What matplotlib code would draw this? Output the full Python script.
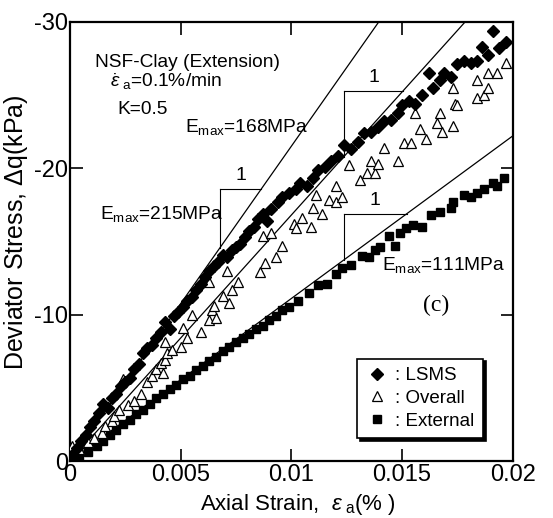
import numpy as np
import matplotlib
matplotlib.use('Agg')
import matplotlib.pyplot as plt

# LSMS (local strain) - strain %, deviator stress magnitude kPa
lsms_x = [0.0001, 0.0003, 0.0005, 0.0007, 0.0009, 0.0011, 0.0013, 0.0015, 0.0017, 0.0019,
          0.0021, 0.0023, 0.0025, 0.0027, 0.0029, 0.0031, 0.0033, 0.0035, 0.0037, 0.0039,
          0.0041, 0.0043, 0.0045, 0.0047, 0.0049, 0.0051, 0.0053, 0.0055, 0.0057, 0.0059,
          0.0061, 0.0063, 0.0065, 0.0067, 0.0069, 0.0071, 0.0073, 0.0075, 0.0077, 0.0079,
          0.0081, 0.0083, 0.0085, 0.0087, 0.0089, 0.0091, 0.0094, 0.0096, 0.0099, 0.0102,
          0.0104, 0.0107, 0.0110, 0.0112, 0.0115, 0.0118, 0.0121, 0.0124, 0.0127, 0.0130,
          0.0133, 0.0136, 0.0139, 0.0142, 0.0145, 0.0148, 0.0150, 0.0153, 0.0156, 0.0159,
          0.0162, 0.0164, 0.0167, 0.0169, 0.0172, 0.0175, 0.0178, 0.0181, 0.0184, 0.0186,
          0.0189, 0.0191, 0.0194, 0.0197]
lsms_q = [0.4, 0.9, 1.4, 1.8, 2.3, 2.7, 3.3, 3.9, 3.6, 4.3,
          4.6, 5.1, 5.4, 5.7, 6.3, 6.6, 7.4, 7.7, 7.9, 8.4,
          8.8, 9.5, 9.0, 9.9, 10.2, 10.5, 10.9, 11.2, 11.7, 12.1,
          12.6, 13.0, 13.3, 13.6, 14.1, 13.9, 14.4, 14.6, 14.8, 15.3,
          15.7, 16.0, 16.5, 16.9, 16.4, 17.2, 17.7, 18.0, 18.3, 18.6,
          19.0, 18.8, 19.3, 19.9, 20.1, 20.5, 20.8, 21.6, 21.3, 21.8,
          22.4, 22.5, 22.8, 23.2, 23.3, 23.8, 24.3, 24.6, 24.4, 25.0,
          26.5, 25.5, 26.0, 26.5, 26.2, 27.1, 27.3, 27.2, 27.3, 28.3,
          27.7, 29.4, 28.2, 28.6]

# Overall
over_x = [0.0001, 0.0004, 0.0008, 0.0011, 0.00145, 0.0016, 0.0019, 0.0020, 0.0022, 0.0024,
          0.0026, 0.0029, 0.0032, 0.0035, 0.0037, 0.0039, 0.0041, 0.0042, 0.0043, 0.0044,
          0.0043, 0.0046, 0.0050, 0.0051, 0.0053, 0.0055, 0.0059, 0.0063, 0.0063, 0.0064,
          0.0065, 0.0066, 0.0069, 0.0071, 0.0072, 0.0073, 0.0076, 0.0086, 0.0088, 0.0087,
          0.0091, 0.0093, 0.0096, 0.0101, 0.0102, 0.0105, 0.0109, 0.0110, 0.0111, 0.0114,
          0.0117, 0.0120, 0.0120, 0.0123, 0.0126, 0.0131, 0.0134, 0.0136, 0.0138, 0.0139,
          0.0142, 0.0148, 0.0151, 0.0154, 0.0156, 0.0158, 0.0161, 0.0166, 0.0167, 0.0168,
          0.0173, 0.0173, 0.0174, 0.0175, 0.0184, 0.0184, 0.0187, 0.0189, 0.0189, 0.0193,
          0.0197]
over_q = [1.0, 0.8, 1.3, 1.6, 1.9, 2.4, 2.7, 3.1, 3.5, 5.6,
          3.8, 4.1, 4.6, 5.4, 5.8, 6.3, 6.7, 6.0, 6.9, 7.4,
          8.1, 7.6, 7.8, 9.1, 8.4, 10.0, 8.8, 9.6, 12.2, 10.3,
          10.6, 9.8, 11.3, 13.0, 10.8, 11.7, 12.2, 12.9, 13.5, 15.4,
          15.6, 13.9, 14.7, 16.2, 15.9, 16.6, 16.0, 17.3, 18.2, 16.9,
          17.8, 17.7, 18.8, 18.0, 20.2, 19.2, 19.7, 20.5, 19.7, 20.3,
          21.4, 20.5, 21.7, 21.7, 23.8, 22.7, 22.0, 23.1, 23.8, 22.5,
          22.9, 25.5, 24.4, 24.3, 24.8, 26.0, 25.0, 25.5, 26.5, 26.5,
          27.2]

# External
ext_x = [0.0004, 0.0008, 0.0012, 0.0015, 0.0018, 0.0021, 0.0024, 0.0027, 0.0030, 0.0033,
         0.0036, 0.0039, 0.0042, 0.0045, 0.0048, 0.0051, 0.0054, 0.0057, 0.0060, 0.0063,
         0.0066, 0.0069, 0.0072, 0.0075, 0.0078, 0.0081, 0.0084, 0.0087, 0.0090, 0.0093,
         0.0096, 0.0099, 0.0103, 0.0108, 0.0112, 0.0116, 0.0120, 0.0123, 0.0127, 0.0132,
         0.0135, 0.0138, 0.0140, 0.0144, 0.0147, 0.0149, 0.0152, 0.0155, 0.0159, 0.0163,
         0.0167, 0.0172, 0.0173, 0.0178, 0.0181, 0.0184, 0.0187, 0.0191, 0.0193, 0.0196]
ext_q = [0.3, 0.6, 1.0, 1.4, 1.8, 2.1, 2.5, 2.8, 3.2, 3.5,
         3.9, 4.3, 4.6, 4.9, 5.2, 5.6, 5.8, 6.2, 6.5, 6.8,
         7.1, 7.5, 7.8, 8.1, 8.4, 8.7, 9.0, 9.2, 9.6, 9.9,
         10.3, 10.5, 10.9, 11.5, 12.0, 12.1, 12.8, 13.2, 13.4, 14.0,
         13.9, 14.4, 14.6, 15.4, 14.7, 15.6, 15.9, 16.1, 16.0, 16.8,
         17.0, 17.3, 17.7, 18.2, 18.0, 18.3, 18.6, 19.0, 18.8, 19.3]

# Emax lines (MPa)
E_max = [215, 168, 111]

plt.rcParams['font.family'] = ['Liberation Sans', 'DejaVu Sans']
plt.rcParams['mathtext.fontset'] = 'custom'
plt.rcParams['mathtext.rm'] = 'Liberation Sans'
plt.rcParams['mathtext.it'] = 'Liberation Sans:italic'

fig = plt.figure(figsize=(5.53, 5.18), dpi=100)
ax = fig.add_axes([0.1266, 0.110, 0.8005, 0.848])

xx = np.array([0, 0.02])
for E in E_max:
    ax.plot(xx, -10 * E * xx, color='k', lw=0.9)

ax.plot(ext_x, -np.array(ext_q), 's', color='k', ms=5.5, ls='none', label=': External', zorder=3)
ax.plot(over_x, -np.array(over_q), '^', mfc='white', mec='k', mew=0.9, ms=7, ls='none', label=': Overall', zorder=4)
ax.plot(lsms_x, -np.array(lsms_q), 'D', color='k', ms=6, ls='none', label=': LSMS', zorder=5)

# slope triangles
tri_x = [0.00678, 0.01237, 0.01237]
tri_q = [18.6, 25.3, 16.9]
for E, cx, tq in zip(E_max, tri_x, tri_q):
    xe = tq / (10 * E)
    ql = 10 * E * cx
    ax.plot([cx, xe], [-tq, -tq], color='k', lw=0.8)
    ax.plot([cx, cx], [-tq, -ql], color='k', lw=0.8)
    ax.text((cx + xe) / 2, -tq - 0.3, '1', ha='center', va='bottom', fontsize=14)

fs = 13.8
ax.text(0.00135, -16.9, r'E$_{\rm max}$=215MPa', ha='left', va='center', fontsize=fs)
ax.text(0.0052, -22.8, r'E$_{\rm max}$=168MPa', ha='left', va='center', fontsize=fs)
ax.text(0.0141, -13.4, r'E$_{\rm max}$=111MPa', ha='left', va='center', fontsize=fs)
ax.text(0.00115, -27.2, 'NSF-Clay (Extension)', ha='left', va='center', fontsize=fs)
ax.text(0.0018, -25.9, r'$\dot{\varepsilon}_{\rm \ a}$=0.1%/min', ha='left', va='center', fontsize=fs)
ax.text(0.00215, -24.0, 'K=0.5', ha='left', va='center', fontsize=fs)
ax.text(0.01653, -10.6, '(c)', ha='center', va='center', fontsize=17, family='Liberation Serif')

ax.set_xlim(0, 0.02)
ax.set_ylim(0, -30)
ax.set_xticks([0, 0.005, 0.01, 0.015, 0.02])
ax.set_xticklabels(['0', '0.005', '0.01', '0.015', '0.02'])
ax.set_yticks([0, -10, -20, -30])
ax.set_yticklabels(['0', '-10', '-20', '-30'])
ax.tick_params(direction='in', length=9, width=1.2, top=True, right=True)
ax.tick_params(axis='x', labelsize=17, pad=2)
ax.tick_params(axis='y', labelsize=17, pad=1.5)
for s in ax.spines.values():
    s.set_linewidth(1.6)

ax.set_xlabel(r'Axial Strain,  $\varepsilon_{\rm \ a}$(% )', fontsize=16)
ax.set_ylabel(r'Deviator Stress, $\Delta$q(kPa)', fontsize=18)
ax.xaxis.set_label_coords(0.515, -0.07)
ax.yaxis.set_label_coords(-0.09, 0.52)

h, l = ax.get_legend_handles_labels()
leg = ax.legend(h[::-1], l[::-1], loc='lower left', bbox_to_anchor=(0.648, 0.052), borderaxespad=0,
                fancybox=False, framealpha=1, edgecolor='k', fontsize=13.5, handletextpad=0.4,
                handlelength=1.2, labelspacing=0.3, borderpad=0.45,
                shadow={'color': 'black', 'alpha': 1})
leg.get_frame().set_linewidth(1.2)

fig.savefig('out.png', dpi=100)
